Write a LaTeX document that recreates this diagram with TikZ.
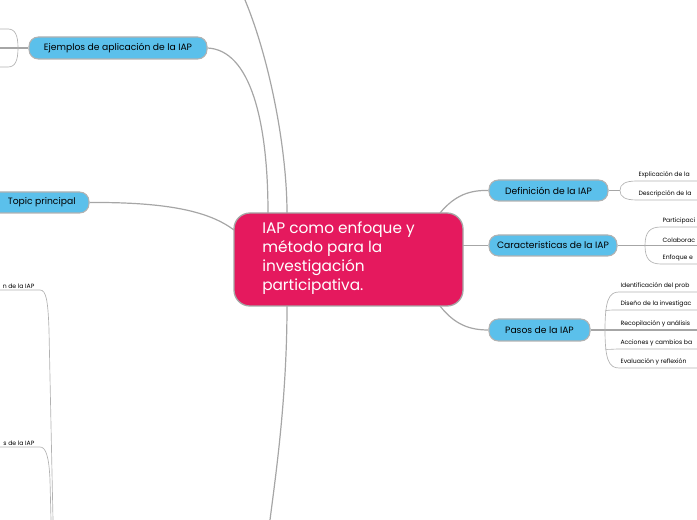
\documentclass[tikz,border=0pt]{standalone}
\usepackage{fontspec}
\setmainfont{Poppins}
\begin{document}
\begin{tikzpicture}[x=0.75pt,y=-0.75pt,
  conn/.style={draw=black!35,line width=0.9pt},
  thin/.style={draw=black!30,line width=0.5pt},
  topic/.style={draw=black!30,line width=0.8pt,fill=topicblue,rounded corners=7pt,inner sep=0pt,font=\fontsize{6.9}{8}\selectfont},
  sub/.style={anchor=south west,inner sep=1pt,font=\fontsize{4.6}{6}\selectfont}]
\definecolor{topicblue}{HTML}{5BC0EB}
\definecolor{mainpink}{HTML}{E5195E}
\useasboundingbox (0,0) rectangle (697,520);
\clip (0,0) rectangle (697,520);
% central
\node[draw=black!35,line width=1pt,fill=mainpink,rounded corners=12pt,minimum width=229*0.75pt,minimum height=93*0.75pt,inner sep=0pt] (c) at (348.5,259.5) {};
\node[anchor=north west,text=white,align=left,font=\fontsize{11.5}{14.2}\selectfont,inner sep=0pt] (ct) at (262,222) {IAP como enfoque y\\método para la\\investigación\\participativa.};
% topics
\node[topic,minimum width=178*0.75pt,minimum height=22*0.75pt] (ej) at (118,48) {Ejemplos de aplicación de la IAP};
\node[topic,minimum width=100*0.75pt,minimum height=21*0.75pt] (tp) at (39,202.5) {\hspace*{4pt}Topic principal};
\node[topic,minimum width=119*0.75pt,minimum height=21*0.75pt] (de) at (548.5,190.5) {Definición de la IAP};
\node[topic,minimum width=128*0.75pt,minimum height=21*0.75pt] (ca) at (553,245.5) {Caracteristicas de la IAP};
\node[topic,minimum width=101*0.75pt,minimum height=22*0.75pt] (pa) at (539.5,330) {Pasos de la IAP};
% main connectors
\draw[conn] (440,213) .. controls (455,195) and (470,190) .. (de.west);
\draw[conn] (463,245.5) -- (ca.west);
\draw[conn] (440,306) .. controls (455,325) and (470,330) .. (pa.west);
\draw[conn] (tp.east) .. controls (170,202) and (210,212) .. (234,230);
\draw[conn] (ej.east) .. controls (250,50) and (268,120) .. (268,213);
\draw[conn] (245,0) .. controls (270,60) and (287,150) .. (287,213);
\draw[conn] (287,306) .. controls (287,400) and (275,480) .. (270,520);
% Ejemplos bracket
\coordinate (ejl) at (18,48);
\draw[conn] (ej.west) -- (ejl) -- (0,48);
\draw[thin] (0,29) -- (8,29) .. controls (15,29) and (18,35) .. (18,48) .. controls (18,61) and (15,67) .. (8,67) -- (0,67);
% left texts
\node[sub,anchor=south east] (l1) at (36,290) {n de la IAP};
\draw[thin] (0,290) -- (40,290) .. controls (46,290) and (48,300) .. (49,330) -- (53,520);
\node[sub,anchor=south east] (l2) at (36,447) {s de la IAP};
\draw[thin] (0,447) -- (40,447) .. controls (46,447) and (49,457) .. (50,480) -- (51,520);
% Definicion subs
\coordinate (db) at (620,190.5);
\draw[conn] (de.east) -- (db);
\draw[thin] (697,181) -- (637,181) .. controls (625,181) and (620,184) .. (620,190.5) .. controls (620,197) and (625,200) .. (637,200) -- (697,200);
\node[sub] (d1) at (637,180) {Explicación de la};
\node[sub] (d2) at (637,199) {Descripción de la};
% Caracteristicas subs
\coordinate (cb) at (645,245.5);
\draw[conn] (ca.east) -- (cb) -- (697,245.5);
\draw[thin] (697,227) -- (661,227) .. controls (650,227) and (645,232) .. (645,245.5) .. controls (645,259) and (650,264) .. (661,264) -- (697,264);
\node[sub] (c1) at (661,226) {Participaci};
\node[sub] (c2) at (661,244.5) {Colaborac};
\node[sub] (c3) at (661,263) {Enfoque e};
% Pasos subs
\coordinate (pb) at (605,330);
\draw[conn] (pa.east) -- (pb) -- (697,330);
\draw[thin] (697,292) -- (619,292) .. controls (609,292) and (605,300) .. (605,330) .. controls (605,360) and (609,368) .. (619,368) -- (697,368);
\draw[thin] (605,311) .. controls (607,310) and (612,310) .. (619,310) -- (697,310);
\draw[thin] (605,349) .. controls (607,350) and (612,349) .. (619,349) -- (697,349);
\node[sub] (p1) at (619,291) {Identificación del prob};
\node[sub] (p2) at (619,309) {Diseño de la investigac};
\node[sub] (p3) at (619,329) {Recopilación y análisis};
\node[sub] (p4) at (619,348) {Acciones y cambios ba};
\node[sub] (p5) at (619,367) {Evaluación y reflexión};
\end{tikzpicture}
\end{document}
